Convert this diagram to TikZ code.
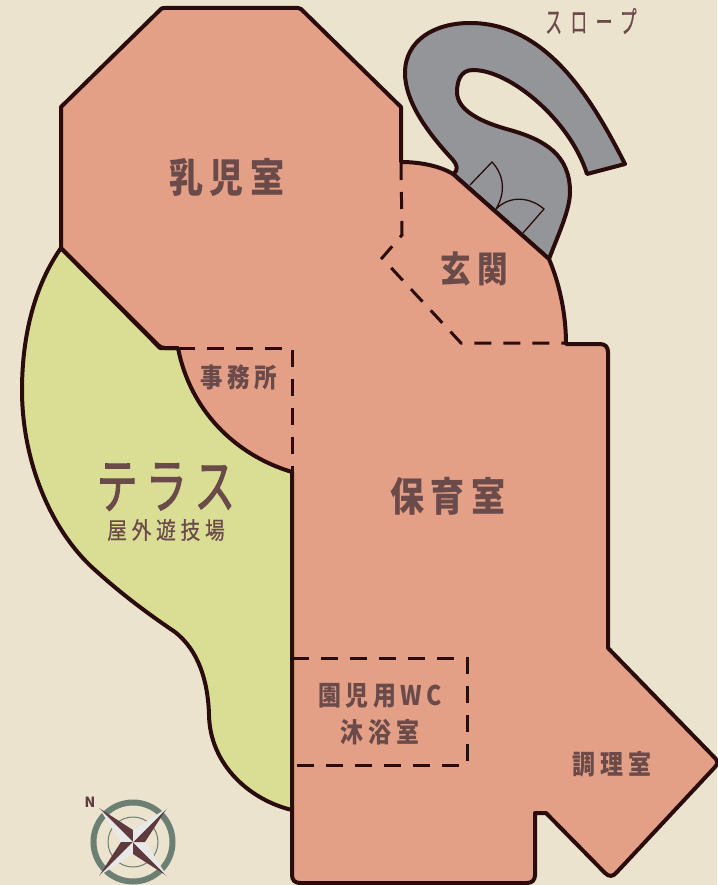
\documentclass[tikz,border=0pt]{standalone}
\usepackage{fontspec}
\newfontfamily\jpb[LetterSpace=17,FakeStretch=0.85]{Noto Sans CJK JP}
\newfontfamily\jpm[LetterSpace=20,FakeStretch=0.84,FakeBold=0.6]{Noto Sans CJK JP}
\newfontfamily\jpt[LetterSpace=14,FakeStretch=0.68,FakeBold=1.6]{Noto Sans CJK JP}
\newfontfamily\jpr[LetterSpace=28,FakeStretch=0.56,FakeBold=0.5]{Noto Sans CJK JP}
\definecolor{bgc}{HTML}{EBE3CE}
\definecolor{roomc}{HTML}{E4A086}
\definecolor{greenc}{HTML}{DADE95}
\definecolor{grayc}{HTML}{939598}
\definecolor{linec}{HTML}{2A0C0C}
\definecolor{textc}{HTML}{6B4A4A}
\definecolor{ringc}{HTML}{6B7F72}
\definecolor{darkc}{HTML}{5E3A3F}
\definecolor{lightc}{HTML}{E8E8E8}
\tikzset{
  wall/.style={draw=linec,line width=4pt,line join=round},
  dashwall/.style={draw=linec,line width=3pt,dash pattern=on 17pt off 12pt},
  door/.style={draw=linec,line width=1.3pt},
  lab/.style={text=textc,inner sep=0pt,align=center},
}
\begin{document}
\begin{tikzpicture}[x=1pt,y=-1pt]
\useasboundingbox (0,0) rectangle (717,885);
\fill[bgc] (0,0) rectangle (717,885);
% terrace
\path[wall,fill=greenc] (61,248) .. controls (35,285) and (22,335) .. (22,390)
  .. controls (22,460) and (50,530) .. (95,570)
  .. controls (125,597) and (150,615) .. (175,632)
  .. controls (198,650) and (208,680) .. (209,715)
  .. controls (210,765) and (250,800) .. (292,810) -- (292,472) -- (178,348) -- (160,348) -- cycle;
% slope
\path[wall,fill=grayc] (453,174) .. controls (459,170) and (457,165) .. (453,160)
  .. controls (425,130) and (405,100) .. (405,73)
  .. controls (405,40) and (435,23) .. (470,23)
  .. controls (545,23) and (590,95) .. (625,164)
  -- (587,174)
  .. controls (570,120) and (510,70) .. (473,70)
  .. controls (460,70) and (457,82) .. (457,92)
  .. controls (457,110) and (480,122) .. (510,130)
  .. controls (545,140) and (570,155) .. (570,192)
  .. controls (570,210) and (558,235) .. (549,259) -- cycle;
\draw[door] (470,185) -- (492,162) .. controls (504,175) and (506,192) .. (496,209)
  .. controls (510,195) and (530,197) .. (544,209) -- (523,233);
% building
\path[wall,fill=roomc] (165,8) -- (298,8) .. controls (300,8) and (300,8) .. (301,9) -- (401,107) -- (401,162)
  .. controls (420,162) and (440,166) .. (453,174) -- (549,259)
  .. controls (560,285) and (566,315) .. (566,344) -- (600,344)
  .. controls (605,344) and (608,347) .. (608,352) -- (608,648)
  -- (715,758) .. controls (718,761) and (718,764) .. (715,767)
  -- (617,872) .. controls (613,877) and (609,877) .. (605,873)
  -- (546,813) -- (535,813) -- (535,875)
  .. controls (535,880) and (532,883) .. (527,883) -- (300,883)
  .. controls (295,883) and (292,880) .. (292,875) -- (292,472)
  .. controls (235,455) and (190,410) .. (178,348) -- (165,348)
  .. controls (162,348) and (160,347) .. (158,345) -- (61,248) -- (61,107)
  -- (161,9) .. controls (162,8) and (163,8) .. (165,8) -- cycle;
% interior dashed walls
\draw[dashwall] (401,163) -- (402,235) -- (382,258) -- (461,343) -- (566,343);
\draw[dashwall] (178,348) -- (292,348) -- (292,472);
\draw[dashwall] (292,658) -- (467,658) -- (467,765) -- (292,765);
% labels
\node[lab,font=\jpb\bfseries\fontsize{40}{40}\selectfont] (nyuji) at (227,177) {乳児室};
\node[lab,font=\jpb\bfseries\fontsize{36}{36}\selectfont] (genkan) at (474,269) {玄関};
\node[lab,font=\jpb\bfseries\fontsize{26.5}{26.5}\selectfont] (jimu) at (239,377) {事務所};
\node[lab,font=\jpb\bfseries\fontsize{40}{40}\selectfont] (hoiku) at (448,496) {保育室};
\node[lab,font=\jpt\fontsize{60}{60}\selectfont] (terasu) at (166,487) {テラス};
\node[lab,font=\jpm\fontsize{23.5}{23.5}\selectfont] (okugai) at (166,530) {屋外遊技場};
\node[lab,font=\jpb\bfseries\fontsize{27}{27}\selectfont] (wc) at (380,696) {園児用WC};
\node[lab,font=\jpb\bfseries\fontsize{27}{27}\selectfont] (mokuyoku) at (380,732) {沐浴室};
\node[lab,font=\jpb\bfseries\fontsize{27}{27}\selectfont] (chori) at (612,764) {調理室};
\node[lab,font=\jpr\fontsize{30}{30}\selectfont] (slope) at (591,21) {スロープ};
% compass
\coordinate (cc) at (133,842);
\draw[ringc,line width=6pt] (cc) circle (39.5);
\draw[ringc,line width=1pt] (cc) circle (25);
\foreach \a in {0,90,180,270}{
  \begin{scope}[shift={(cc)},rotate=\a]
    \fill[darkc] (0,0) -- (-34,-34) -- (0,-12) -- cycle;
    \fill[lightc] (0,0) -- (-34,-34) -- (-12,0) -- cycle;
  \end{scope}
}
\node[text=darkc,inner sep=0pt,font=\fontspec{Noto Sans CJK JP}\bfseries\fontsize{14}{14}\selectfont] (north) at (90,802) {N};
\end{tikzpicture}
\end{document}
